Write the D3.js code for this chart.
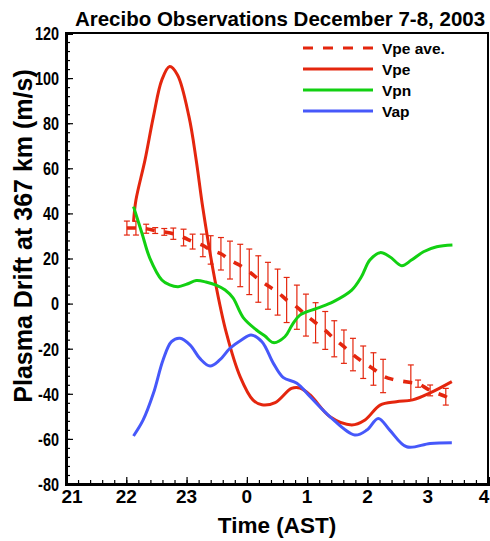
<!DOCTYPE html>
<html lang="en">
<head>
<meta charset="utf-8">
<title>Arecibo Observations</title>
<script src="https://cdn.jsdelivr.net/npm/d3@7"></script>
<style>
  body { margin: 0; background: #fff; }
  text { font-family: "Liberation Sans", Arial, sans-serif; font-weight: bold; }
</style>
</head>
<body>
<script>
// time in hours (24 = midnight AST), velocities in m/s
var vpeT = [22.12, 22.16, 22.31, 22.45, 22.59, 22.72, 22.85, 23.04, 23.16, 23.27, 23.47, 23.66, 23.89, 24.10, 24.25, 24.47, 24.74, 24.88, 25.05, 25.38, 25.74, 25.96, 26.21, 26.48, 26.75, 27.04, 27.40];
var vpeV = [36.2, 45.9, 63.6, 82.9, 99.2, 105.1, 101.4, 82.9, 63.6, 42.4, 10.5, -13.0, -32.5, -42.7, -44.9, -43.9, -37.6, -37.4, -40.5, -50.2, -53.8, -51.6, -45.0, -43.5, -42.7, -39.6, -34.6];

var vpnT = [22.12, 22.26, 22.39, 22.59, 22.72, 22.86, 23.01, 23.16, 23.32, 23.49, 23.64, 23.77, 23.94, 24.16, 24.30, 24.44, 24.63, 24.75, 24.88, 25.16, 25.43, 25.74, 25.90, 26.04, 26.21, 26.37, 26.57, 26.73, 26.93, 27.15, 27.41];
var vpnV = [43.0, 31.2, 20.2, 10.5, 8.3, 7.5, 8.7, 10.2, 9.6, 8.2, 6.0, 2.5, -6.2, -11.7, -14.4, -17.3, -14.7, -9.5, -5.1, -2.1, 0.8, 6.0, 11.9, 19.3, 22.6, 20.8, 16.8, 19.3, 23.0, 25.2, 26.0];

var vapT = [22.12, 22.28, 22.45, 22.61, 22.75, 22.89, 23.06, 23.22, 23.39, 23.55, 23.72, 23.91, 24.07, 24.25, 24.44, 24.60, 24.83, 25.05, 25.38, 25.79, 25.99, 26.18, 26.37, 26.65, 27.04, 27.40];
var vapV = [-58.7, -51.6, -39.8, -25.0, -16.9, -15.4, -18.4, -24.3, -27.7, -25.0, -19.8, -16.1, -13.9, -16.9, -26.5, -32.7, -35.3, -41.3, -50.2, -58.3, -56.1, -50.9, -56.1, -63.5, -62.0, -61.7];

// Vpe average with error half-widths (null = no bar)
var aveT = [22.01, 22.16, 22.33, 22.48, 22.63, 22.78, 22.95, 23.10, 23.27, 23.40, 23.57, 23.72, 23.89, 24.04, 24.19, 24.35, 24.51, 24.66, 24.83, 24.98, 25.14, 25.30, 25.45, 25.61, 25.76, 25.93, 26.10, 26.26, 26.42, 26.72, 26.84, 27.04, 27.30, 27.36];
var aveV = [33.5, 33.5, 33.2, 32.4, 31.8, 31.0, 29.3, 27.5, 25.8, 23.8, 22.1, 19.3, 16.9, 14.1, 10.9, 7.9, 5.1, 1.6, -1.6, -5.1, -8.5, -11.9, -15.6, -19.1, -22.6, -26.0, -29.0, -32.1, -33.6, -35.0, -35.5, -38.5, -41.3, -42.4];
var aveErr = [3.1, 3.1, 2.0, 1.3, 1.5, 2.5, 3.7, 3.3, 5.0, 6.3, 7.2, 8.4, 9.4, 10.1, 10.3, 10.4, 10.2, 10.0, 9.8, 9.3, 8.9, 8.4, 8.0, 7.4, 7.2, 7.2, 7.2, 7.4, null, 7.8, 1.6, 2.4, 3.7, null];

var xTicks = [21, 22, 23, 24, 25, 26, 27, 28];
var yTicks = [-80, -60, -40, -20, 0, 20, 40, 60, 80, 100, 120];

var legendNames = ["Vpe ave.", "Vpe", "Vpn", "Vap"];

var red = "#e4260e", green = "#12d012", blue = "#4658fa";

var w = 490, h = 541;
var padL = 66, padR = 488, padT = 33, padB = 484;

var svg = d3.select("body").append("svg")
  .attr("width", w)
  .attr("height", h);

var xScale = d3.scaleLinear().domain([21, 28]).range([padL, padR]);
var yScale = d3.scaleLinear().domain([-80, 120]).range([padB, padT]);

function zip(ts, vs) {
  return ts.map(function(t, i) { return [t, vs[i]]; });
}

var line = d3.line()
  .x(function(d) { return xScale(d[0]); })
  .y(function(d) { return yScale(d[1]); })
  .curve(d3.curveCatmullRom.alpha(0.5));

// frame
svg.append("rect")
  .attr("x", padL).attr("y", padT)
  .attr("width", padR - padL).attr("height", padB - padT)
  .attr("fill", "none")
  .attr("stroke", "#000")
  .attr("stroke-width", 2);

// minor ticks
var xMinor = d3.range(21, 28.001, 0.2);
var yMinor = d3.range(-80, 120.001, 4);

//X axis (ticks pointing inward)
var xAxis = d3.axisTop(xScale).tickValues(xTicks).tickSize(7).tickFormat("");
var xAxisMinor = d3.axisTop(xScale).tickValues(xMinor).tickSize(4).tickFormat("");
svg.append("g").attr("class", "x axis")
  .attr("transform", "translate(0," + padB + ")")
  .call(xAxisMinor);
svg.append("g").attr("class", "x axis")
  .attr("transform", "translate(0," + padB + ")")
  .call(xAxis);

//Y axis
var yAxis = d3.axisRight(yScale).tickValues(yTicks).tickSize(7).tickFormat("");
var yAxisMinor = d3.axisRight(yScale).tickValues(yMinor).tickSize(4).tickFormat("");
svg.append("g").attr("class", "y axis")
  .attr("transform", "translate(" + padL + ",0)")
  .call(yAxisMinor);
svg.append("g").attr("class", "y axis")
  .attr("transform", "translate(" + padL + ",0)")
  .call(yAxis);

svg.selectAll(".axis path.domain").attr("stroke-width", 3);
svg.selectAll(".axis line").attr("stroke-width", 1.2);

// tick labels (end labels nudged inward like the original)
svg.selectAll(".xlab")
  .data(xTicks)
  .enter().append("text")
  .attr("class", "xlab")
  .attr("x", function(d) { return xScale(d); })
  .attr("dx", function(d, i) { return i === 0 ? 6 : (i === xTicks.length - 1 ? -4 : 0); })
  .attr("y", 503)
  .attr("text-anchor", "middle")
  .attr("font-size", "19px")
  .text(function(d) { return d % 24; });

// y tick labels are drawn narrower, as in the original
svg.selectAll(".ylab")
  .data(yTicks)
  .enter().append("text")
  .attr("class", "ylab")
  .attr("x", 59)
  .attr("y", function(d) { return yScale(d); })
  .attr("dy", "0.36em")
  .attr("text-anchor", "end")
  .attr("font-size", "19px")
  .text(function(d) { return d; })
  .each(function() {
    var len = this.getComputedTextLength();
    d3.select(this).attr("textLength", len * 0.76).attr("lengthAdjust", "spacingAndGlyphs");
  });

// error bars
var bars = zip(aveT, aveV).map(function(d, i) { return [d[0], d[1], aveErr[i]]; })
  .filter(function(d) { return d[2] !== null; });

var eb = svg.append("g").attr("stroke", red).attr("stroke-width", 1.2).attr("fill", "none");
bars.forEach(function(d) {
  var x = xScale(d[0]), y1 = yScale(d[1] + d[2]), y2 = yScale(d[1] - d[2]);
  eb.append("line").attr("x1", x).attr("x2", x).attr("y1", y1).attr("y2", y2);
  eb.append("line").attr("x1", x - 3).attr("x2", x + 3).attr("y1", y1).attr("y2", y1);
  eb.append("line").attr("x1", x - 3).attr("x2", x + 3).attr("y1", y2).attr("y2", y2);
});

// average dashed line
svg.append("path")
  .datum(zip(aveT, aveV))
  .attr("d", line)
  .attr("fill", "none")
  .attr("stroke", red)
  .attr("stroke-width", 3.6)
  .attr("stroke-dasharray", "9,10");

// curves
[[vpeT, vpeV, red], [vpnT, vpnV, green], [vapT, vapV, blue]].forEach(function(s) {
  svg.append("path")
    .datum(zip(s[0], s[1]))
    .attr("d", line)
    .attr("fill", "none")
    .attr("stroke", s[2])
    .attr("stroke-width", 3);
});

// legend
var lg = svg.append("g");
var legendColors = [red, red, green, blue];
var legendY = [48, 69, 90, 111];
legendNames.forEach(function(name, i) {
  lg.append("line")
    .attr("x1", 303).attr("x2", 373)
    .attr("y1", legendY[i]).attr("y2", legendY[i])
    .attr("stroke", legendColors[i])
    .attr("stroke-width", 2.8)
    .attr("stroke-dasharray", i === 0 ? "10,10" : null);
  lg.append("text")
    .attr("x", 382).attr("y", legendY[i])
    .attr("dy", "0.36em")
    .attr("font-size", "15.5px")
    .text(name);
});

//Title
svg.append("text")
  .attr("x", 280).attr("y", 26)
  .attr("text-anchor", "middle")
  .attr("font-size", "20.5px")
  .text("Arecibo Observations December 7-8, 2003");

// axis titles
svg.append("text")
  .attr("x", 277).attr("y", 533)
  .attr("text-anchor", "middle")
  .attr("font-size", "22.5px")
  .text("Time (AST)");

svg.append("text")
  .attr("transform", "translate(32,236) rotate(-90)")
  .attr("text-anchor", "middle")
  .attr("font-size", "25px")
  .text("Plasma Drift at 367 km (m/s)");
</script>
</body>
</html>
